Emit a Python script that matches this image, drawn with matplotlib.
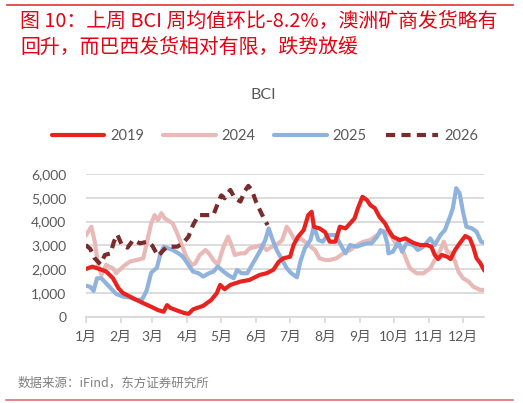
import matplotlib
matplotlib.use("Agg")
import matplotlib.pyplot as plt
from matplotlib.lines import Line2D

# ---------------- data ----------------
month_labels = ['1月', '2月', '3月', '4月', '5月', '6月', '7月', '8月', '9月', '10月', '11月', '12月']
month_starts = [0, 31, 59, 90, 120, 151, 181, 212, 243, 273, 304, 334]

d2019 = [0, 6, 12, 18, 24, 29, 33, 42, 51, 58, 64, 69, 72, 75, 81, 87, 91, 95, 104, 111, 116, 119, 123, 128,
         137, 145, 154, 160, 166, 171, 175, 181, 184, 188, 193, 197, 200, 202, 207, 212, 216, 221, 225, 230,
         234, 238, 241, 245, 249, 252, 256, 260, 265, 268, 272, 278, 283, 290, 296, 302, 306, 309, 312, 315,
         320, 323, 327, 330, 336, 340, 343, 346, 349, 353]
v2019 = [2000, 2100, 2000, 1900, 1620, 1190, 990, 770, 560, 410, 270, 200, 480, 360, 250, 150, 110, 300, 450,
         690, 980, 1330, 1150, 1330, 1470, 1540, 1750, 1820, 1960, 2310, 2450, 2520, 3010, 3360, 3640, 4270,
         4410, 3780, 3710, 3550, 3150, 3150, 3780, 3710, 3920, 4130, 4560, 5040, 4900, 4690, 4560, 4200, 3920,
         3640, 3360, 3220, 3290, 3100, 3010, 3010, 2940, 2590, 2420, 2590, 2520, 2420, 2800, 3010, 3390, 3290,
         2940, 2450, 2270, 1930]

d2024 = [0, 5, 8, 11, 14, 18, 24, 27, 33, 39, 45, 51, 55, 58, 61, 64, 67, 70, 77, 81, 85, 89, 94, 97, 101,
         106, 109, 113, 117, 122, 126, 129, 132, 137, 141, 145, 151, 156, 160, 165, 169, 174, 178, 181, 185,
         190, 194, 199, 203, 207, 212, 216, 222, 228, 234, 240, 246, 252, 258, 262, 266, 271, 275, 280, 284,
         287, 293, 299, 305, 309, 314, 317, 320, 324, 327, 330, 334, 339, 343, 349, 353]
v2024 = [3400, 3780, 3150, 2170, 1750, 2170, 2030, 1820, 2100, 2310, 2380, 2450, 3290, 3920, 4270, 4060, 4350,
         4130, 3920, 3500, 3010, 2520, 2170, 2240, 2590, 2800, 2660, 2380, 2170, 2940, 3360, 3010, 2590, 2660,
         2660, 2870, 2940, 3010, 2800, 2940, 3010, 3220, 3780, 3570, 3220, 3290, 3150, 2940, 2800, 2450, 2380,
         2380, 2450, 2660, 2800, 3010, 3150, 3220, 3430, 3570, 3570, 3360, 3010, 2870, 2380, 2030, 1820, 1820,
         2030, 2380, 2800, 3150, 2730, 2660, 2310, 1890, 1610, 1470, 1260, 1120, 1120]

d2025 = [0, 4, 7, 10, 14, 18, 23, 27, 33, 39, 45, 50, 54, 58, 63, 66, 69, 77, 82, 86, 91, 95, 100, 104, 109,
         113, 117, 122, 126, 131, 134, 138, 143, 148, 154, 159, 162, 165, 169, 174, 178, 182, 187, 190, 194,
         199, 202, 206, 210, 214, 221, 225, 230, 234, 240, 244, 249, 253, 258, 261, 264, 267, 268, 272, 277,
         280, 284, 290, 294, 299, 305, 309, 314, 318, 323, 325, 328, 331, 334, 337, 342, 346, 350, 353]
v2025 = [1300, 1250, 1080, 1610, 1610, 1400, 1150, 950, 840, 800, 690, 720, 1100, 1850, 2050, 2600, 2940, 2800,
         2660, 2520, 2170, 1890, 1820, 1680, 1820, 1890, 2100, 1890, 1750, 1610, 1960, 1820, 1820, 2240, 2730,
         3220, 3710, 3290, 2800, 2380, 2030, 1820, 1650, 2310, 2870, 3220, 3800, 3220, 3150, 3430, 3430, 3080,
         2660, 3010, 2940, 3010, 3080, 3080, 3360, 3640, 3570, 3080, 2660, 2730, 3150, 2730, 3080, 3010, 2800,
         2940, 3290, 3010, 3430, 3640, 4270, 4560, 5400, 5190, 4410, 3780, 3710, 3570, 3150, 3100]

d2026 = [0, 4, 8, 13, 17, 22, 25, 28, 32, 37, 42, 48, 55, 59, 64, 68, 72, 81, 86, 91, 95, 100, 107, 113, 117,
         120, 123, 128, 132, 137, 141, 144, 147, 151, 156, 161]
v2026 = [3010, 2850, 2450, 2200, 2590, 2660, 3150, 3450, 3010, 2900, 3220, 3080, 3150, 2980, 2550, 2750, 2940,
         2940, 3080, 3360, 3850, 4270, 4270, 4270, 4770, 5100, 4980, 5330, 4980, 4840, 5300, 5500, 5330, 4800,
         4300, 3850]

series_names = ['2019', '2024', '2025', '2026']
y_ticks = [0, 1000, 2000, 3000, 4000, 5000, 6000]

# ---------------- style ----------------
plt.rcParams['font.family'] = ['Lato', 'Noto Sans CJK SC', 'DejaVu Sans']
c19, c24, c25, c26 = '#E8231F', '#E9B9B7', '#8FB3DD', '#7A2B2B'
grey = '#595959'
grid_c = '#D9D9D9'

W, H = 523, 403
fig = plt.figure(figsize=(W / 100, H / 100), dpi=100)

def fx(px):
    return px / W

def fy(py):
    return 1 - py / H

ax = fig.add_axes([fx(85.7), fy(316.5), fx(484 - 85.7), (316.5 - 174) / H])

lw = 3.0
ax.plot(d2024, v2024, color=c24, lw=lw, solid_joinstyle='round', solid_capstyle='round', zorder=2)
ax.plot(d2025, v2025, color=c25, lw=lw, solid_joinstyle='round', solid_capstyle='round', zorder=3)
ax.plot(d2019, v2019, color=c19, lw=lw, solid_joinstyle='round', solid_capstyle='round', zorder=4)
ax.plot(d2026, v2026, color=c26, lw=lw, linestyle=(0, (2.2, 1.5)), zorder=5)

ax.set_xlim(0, 352.6)
ax.set_ylim(0, 6000)
ax.set_yticks(y_ticks)
ax.set_yticklabels([f'{v:,}' for v in y_ticks])
ax.set_xticks(month_starts)
ax.set_xticklabels(month_labels)

for s in ['left', 'right', 'top']:
    ax.spines[s].set_visible(False)
ax.spines['bottom'].set_color(grid_c)
ax.spines['bottom'].set_linewidth(1.3)
ax.grid(axis='y', color=grid_c, lw=1.3)
ax.set_axisbelow(True)
ax.tick_params(axis='y', length=0, pad=14, labelsize=10, labelcolor=grey)
ax.tick_params(axis='x', length=4, width=1.2, color=grid_c, pad=6, labelsize=10, labelcolor=grey)

# legend
handles = [Line2D([], [], color=c19, lw=lw, solid_capstyle='round'),
           Line2D([], [], color=c24, lw=lw, solid_capstyle='round'),
           Line2D([], [], color=c25, lw=lw, solid_capstyle='round'),
           Line2D([], [], color=c26, lw=lw, linestyle=(0, (2.2, 1.5)))]
fig.legend(handles, series_names, loc='center', bbox_to_anchor=(fx(265), fy(136)), ncol=4,
           frameon=False, fontsize=10.5, labelcolor=grey, handlelength=3.6, handletextpad=0.4,
           columnspacing=1.3, borderpad=0)

# chart title
fig.text(fx(263), fy(95), 'BCI', ha='center', va='center', fontsize=11.5, color=grey)

# header title
red = '#E60012'
fig.text(fx(20), fy(21), '图 10：上周 BCI 周均值环比-8.2%，澳洲矿商发货略有', ha='left', va='center',
         fontsize=14.3, color=red, family=['Noto Sans CJK SC', 'DejaVu Sans'])
fig.text(fx(20), fy(47), '回升，而巴西发货相对有限，跌势放缓', ha='left', va='center',
         fontsize=14.3, color=red, family=['Noto Sans CJK SC', 'DejaVu Sans'])

# source
fig.text(fx(18), fy(383), '数据来源：iFind，东方证券研究所', ha='left', va='center',
         fontsize=9, color='#7F7F7F', family=['Noto Sans CJK SC', 'DejaVu Sans'])

# decorative rules
fig.add_artist(Line2D([fx(7), fx(513)], [fy(5), fy(5)], color='#E8312F', lw=1.2))
fig.add_artist(Line2D([fx(6), fx(513)], [fy(400), fy(400)], color='#E07070', lw=1.2))

fig.savefig('out.png', dpi=100)
